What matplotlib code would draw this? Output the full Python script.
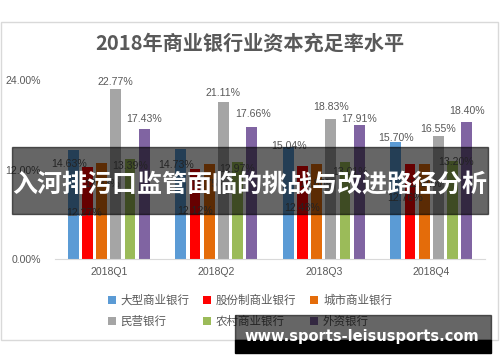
import matplotlib
matplotlib.use('Agg')
import matplotlib.pyplot as plt
from matplotlib.patches import Rectangle
import numpy as np

plt.rcParams['font.family'] = ['Noto Sans CJK SC', 'DejaVu Sans']

quarters = ["2018Q1", "2018Q2", "2018Q3", "2018Q4"]
banks = ["大型商业银行", "股份制商业银行", "城市商业银行", "民营银行", "农村商业银行", "外资银行"]
large = [14.63, 14.73, 15.04, 15.70]
joint = [12.27, 12.12, 12.48, 12.76]
city = [12.83, 12.75, 12.80, 12.80]
private = [22.77, 21.11, 18.83, 16.55]
rural = [13.39, 12.97, 13.01, 13.20]
foreign = [17.43, 17.66, 17.91, 18.40]
series = [large, joint, city, private, rural, foreign]
colors = ["#5B9BD5", "#FF0000", "#E46C0A", "#A5A5A5", "#9BBB59", "#8064A2"]

# label offsets in pixels (dx, dy downward) relative to bar center / bar top
lab_dx = [[-4, -5, 1, 0], [-3, 0, 0, -5], [0, 0, 0, 0],
          [0, 0, 0, 0], [0, 0, 5, 3], [0, 1, 0, 0]]
lab_dy = [[14, 16, -1, -4], [46, 42, 42, 34], [21, 20, 20, 20],
          [-7, -9, -12, -7], [7, 7, 10, 1], [-10, -13, -6, -11]]

W, H = 500, 362
fig = plt.figure(figsize=(W / 100, H / 100), dpi=100)


def fx(x):
    return x / W


def fy(y):
    return 1 - y / H


# chart border
fig.patches.append(Rectangle((fx(1), fy(340)), fx(497), 318 / H, transform=fig.transFigure,
                             fill=False, edgecolor="#D9D9D9", lw=1))

ax = fig.add_axes([fx(55), fy(259), fx(430), 179 / H])
x = np.arange(len(quarters))
step, bw = 0.132, 0.10
for i, (vals, c) in enumerate(zip(series, colors)):
    xs = x + (i - 2.5) * step
    ax.bar(xs, vals, bw, color=c, label=banks[i])
    for j, v in enumerate(vals):
        ax.annotate(f"{v:.2f}%", (xs[j], v), xytext=(lab_dx[i][j] * 0.72, -lab_dy[i][j] * 0.72),
                    textcoords="offset points", ha="center", va="center",
                    fontsize=7.6, color="#595959", family="Liberation Sans")

ax.set_xlim(-0.5, 3.5)
ax.set_ylim(0, 24)
ax.set_yticks([0, 12, 24])
ax.set_yticklabels(["0.00%", "12.00%", "24.00%"], family="Liberation Sans", fontsize=7.6, color="#595959")
ax.set_xticks(x)
ax.set_xticklabels(quarters, family="Liberation Sans", fontsize=7.6, color="#595959")
ax.tick_params(length=0)
ax.tick_params(axis="y", pad=10)
ax.tick_params(axis="x", pad=6)
for s in ["top", "right", "left"]:
    ax.spines[s].set_visible(False)
ax.spines["bottom"].set_color("#D9D9D9")

fig.text(fx(250), fy(43), "2018年商业银行业资本充足率水平", ha="center", va="center",
         fontsize=14.5, color="#595959", fontweight="bold")

h, l = ax.get_legend_handles_labels()
order = [0, 3, 1, 4, 2, 5]
ax.legend([h[k] for k in order], [l[k] for k in order], ncol=3, loc="center",
          bbox_to_anchor=(fx(250), fy(311)), bbox_transform=fig.transFigure, frameon=False,
          fontsize=8.3, labelcolor="#595959", handlelength=0.7, handleheight=0.7,
          handletextpad=0.4, columnspacing=1.2, labelspacing=0.7)

# banner overlay
fig.patches.append(Rectangle((fx(12), fy(214)), 476 / W, 67 / H, transform=fig.transFigure,
                             color="black", alpha=0.6, zorder=10))
fig.text(fx(250), fy(185), "入河排污口监管面临的挑战与改进路径分析", ha="center", va="center",
         fontsize=18, color="white", fontweight="bold", zorder=11)

# watermark
fig.patches.append(Rectangle((fx(235), fy(340)), 256 / W, 25 / H, transform=fig.transFigure,
                             color="black", alpha=0.6, zorder=10))
fig.patches.append(Rectangle((fx(235), fy(353)), 256 / W, 13 / H, transform=fig.transFigure,
                             color="black", zorder=10))
fig.text(fx(362), fy(336), "www.sports-leisusports.com", ha="center", va="center",
         fontsize=10.5, color="white", fontweight="bold", family="DejaVu Sans", zorder=11)

fig.savefig("out.png", dpi=100)
